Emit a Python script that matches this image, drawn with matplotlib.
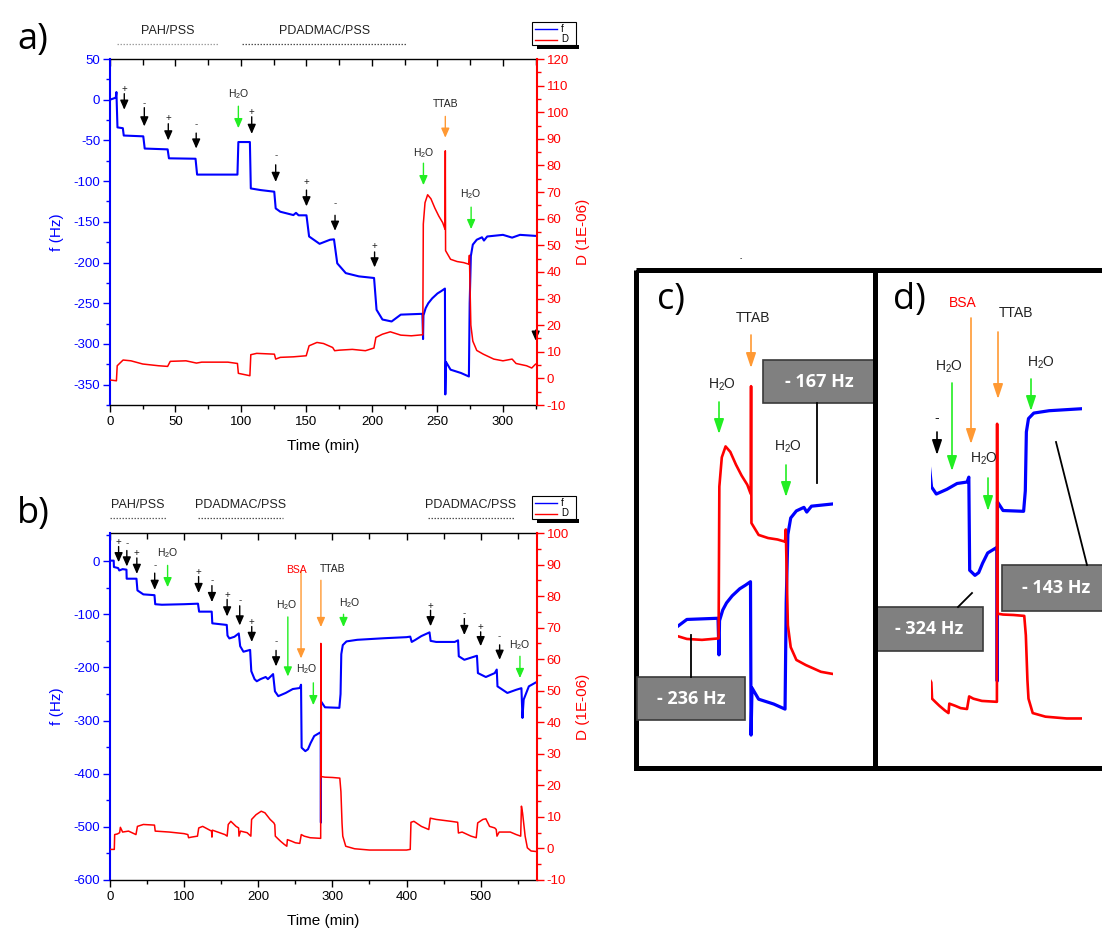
import matplotlib
matplotlib.use('Agg')
import matplotlib.pyplot as plt
import matplotlib.transforms as mtransforms
from matplotlib.patches import Rectangle
from matplotlib.ticker import MultipleLocator, NullFormatter

plt.rcParams['font.family'] = ['Liberation Sans', 'DejaVu Sans']
plt.rcParams['axes.unicode_minus'] = False
plt.rcParams['mathtext.fontset'] = 'custom'
plt.rcParams['mathtext.rm'] = 'Liberation Sans'
plt.rcParams['mathtext.it'] = 'Liberation Sans:italic'
plt.rcParams['mathtext.bf'] = 'Liberation Sans:bold'

# ---------------------------------------------------------------- data
# Panel a : (time min, f Hz) and (time min, D 1E-06)
a_freq = [(0, 0), (4.4, 2.5), (4.9, 9.4), (5.7, -34), (9.8, -35), (10.5, -44), (25.4, -45),
          (26.5, -60), (44.0, -61), (45.0, -72), (65.3, -72.5), (66.5, -92), (97.3, -92),
          (98.0, -52), (106.8, -52), (107.5, -109), (115, -111), (125.4, -113), (126.5, -133.5),
          (130, -137.6), (140, -141.7), (142, -139), (144, -142), (150, -142), (152, -168),
          (160, -177), (168, -172), (171, -171.5), (173.5, -201), (180, -213), (190, -217),
          (201.6, -219), (203.5, -258), (208, -270), (215, -272.4), (222, -264), (238.5, -263),
          (239.0, -294), (239.3, -265), (241, -256), (243, -250), (246, -244), (250, -238),
          (253, -235), (255.7, -232), (256.0, -362), (256.5, -322), (260, -331.6), (268, -335.7),
          (274, -340), (274.6, -250), (275.5, -192), (277, -178), (280, -172), (284, -169),
          (285.5, -173), (288, -168), (300, -166), (307, -169.4), (313, -166), (326, -167.4)]
a_diss = [(0, -0.6), (4.9, -0.9), (5.5, 4.75), (10, 6.9), (16, 6.6), (25, 5.4), (37, 4.75),
          (44, 4.5), (46, 6.4), (58, 6.6), (66, 5.75), (70, 6.1), (90, 6.1), (97.3, 5.6),
          (98, 1.9), (106.8, 1.0), (107.5, 8.9), (112, 9.4), (125.5, 9.1), (126.5, 7.25),
          (130, 7.9), (140, 8.1), (149.8, 8.5), (152, 12.25), (158, 13.5), (163, 13.1),
          (170, 11.6), (171.5, 10.4), (175, 10.6), (185, 10.9), (195, 10.4), (201.5, 11.4),
          (203, 15.4), (208, 16.6), (214, 17.5), (222, 16.25), (230, 16.0), (238.8, 16.4),
          (239.2, 58), (240.5, 66), (242.5, 69), (245, 67.5), (248, 64), (251, 61), (254, 58.5),
          (255.8, 56), (256.0, 85.5), (256.2, 48), (260, 44.75), (265, 43.9), (270, 43.5),
          (274, 42.9), (274.4, 46.25), (274.8, 36), (275.5, 20), (277, 14), (280, 10.5),
          (285, 9.1), (293, 7.25), (300, 6.6), (307, 7.25), (310, 5.6), (318, 4.75),
          (322, 3.9), (325, 5.4), (326, 5.1)]

# Panel b
b_freq = [(0, 1), (5, 1), (5.3, -11), (11, -13), (12.5, -17.5), (17, -15), (22.2, -16),
          (22.5, -33), (35.7, -33), (37, -55), (45, -62.5), (60, -64), (61, -81), (70, -82),
          (100, -81), (118.7, -80), (120.2, -95), (137.2, -95), (138, -117), (157.5, -120),
          (158.5, -140), (161, -145.4), (167.8, -142.3), (173.7, -136), (175.6, -160),
          (180, -170.4), (189, -167), (190.6, -207), (195, -222), (198, -226), (203, -222),
          (210, -218), (213, -222), (220, -212.5), (222.5, -245), (227, -254), (237, -248),
          (246.6, -240.6), (256, -238.75), (257.7, -232.5), (258.5, -351), (263.5, -357.5),
          (267, -354), (270.7, -342), (275.5, -329), (282.8, -323), (284.3, -322),
          (284.5, -492), (284.7, -264), (290, -275), (309.4, -276), (311, -250), (312, -175),
          (314, -158), (319, -151), (333.5, -148), (370, -145), (400, -143), (405, -142),
          (407, -152), (412, -148), (420, -141), (431, -134), (432.5, -150), (440, -152),
          (465, -152), (469.5, -149), (470.5, -179), (478, -185.6), (495, -178),
          (496.3, -210.6), (507, -218), (519, -210.6), (521.7, -204), (522.7, -235.6),
          (536, -248), (548, -242), (555, -239), (556.4, -295), (558, -260.6), (565, -235.6),
          (574.7, -228), (576, -228)]
b_diss = [(0, -0.3), (5.8, -0.3), (6.3, 4.4), (10, 4.6), (13, 5.0), (14, 6.7), (17, 5.2),
          (25, 5.5), (35, 4.4), (37, 7.0), (45, 7.6), (60, 7.4), (61, 5.5), (80, 5.2),
          (100, 4.7), (105, 4.4), (106, 3.4), (110, 3.6), (118, 3.9), (119.7, 6.5), (125, 7.0),
          (137, 5.5), (137.5, 3.6), (138, 5.8), (155, 4.4), (158, 3.9), (159.5, 7.6),
          (163, 8.6), (170, 7.0), (173.5, 6.5), (174, 3.9), (176, 5.5), (185, 5.0), (190, 3.9),
          (191, 9.2), (197, 10.7), (204, 11.8), (209, 11.3), (216, 9.2), (221, 8.1),
          (222.3, 7.5), (223, 3.9), (226, 3.2), (230, 2.3), (235, 1.3), (238.5, 0.7),
          (239.3, 2.8), (245, 2.3), (250, 1.8), (256, 1.6), (258, 4.4), (262, 3.9), (270, 3.4),
          (284.2, 3.2), (284.4, 65), (284.6, 22.8), (290, 22.6), (300, 22.5), (310, 22.3),
          (311.5, 18), (313, 8), (314, 3.9), (318, 0.7), (330, -0.1), (350, -0.5), (400, -0.5),
          (405, -0.3), (406, 8.3), (410, 8.6), (420, 7.0), (430, 6.0), (432, 9.6), (440, 9.2),
          (460, 8.6), (469, 8.3), (470, 4.9), (475, 5.2), (487, 3.9), (494, 3.4), (496, 8.1),
          (503, 9.2), (507, 9.4), (512, 7.0), (519, 6.5), (521, 6.0), (522, 3.9), (525, 5.2),
          (540, 5.2), (548, 4.4), (554, 3.9), (555, 13.4), (556.5, 11.3), (560, 3.9),
          (563, 0.2), (568, -0.8), (576, -1.0)]

# event arrows: (t arrow, t text, label, kind, f text, f tail, f head)
a_marks = [(10.9, 10.9, '+', 'k', 12.7, 7.4, -12.3), (26.2, 26.2, '-', 'k', -4, -9.8, -32.8),
           (44.5, 44.5, '+', 'k', -22.5, -29.5, -50), (65.8, 65.8, '-', 'k', -30, -41, -60),
           (98, 98, 'H2O', 'g', 6.5, -8, -35), (108.2, 108.2, '+', 'k', -15, -21, -42),
           (126.5, 126.5, '-', 'k', -68, -80, -101), (150, 150, '+', 'k', -101, -111, -131),
           (171.8, 171.8, '-', 'k', -127, -142, -161), (202, 202, '+', 'k', -180, -187, -206),
           (239.3, 239.3, 'H2O', 'g', -65, -78, -105), (256, 256, 'TTAB', 'o', -5.7, -20.5, -46.7),
           (275.7, 275.7, 'H2O', 'g', -116, -132, -159), (325, 325, '', 'k', -280, -283, -296)]
b_marks = [(11.6, 11.6, '+', 'k', 37, 27.5, -2), (22.7, 22.7, '-', 'k', 34, 20, -10),
           (36.2, 36.2, '+', 'k', 16, 6, -24), (60.3, 60.3, '-', 'k', -7, -22.5, -54),
           (77.7, 78.5, 'H2O', 'g', 15.6, -8, -49), (119.5, 119.5, '+', 'k', -21, -29, -60),
           (137.5, 137.5, '-', 'k', -35, -46, -77), (158, 158, '+', 'k', -63, -72, -104),
           (175, 175, '-', 'k', -74, -84, -121), (191.2, 191.2, '+', 'k', -114, -123, -152),
           (224, 224, '-', 'k', -150, -168, -198), (239.9, 238.5, 'H2O', 'g', -82, -105, -217),
           (257.7, 251, 'BSA', 'o', -16, -19, -183), (284.5, 300, 'TTAB', 'o', -14, -36, -124),
           (274.3, 266, 'H2O', 'g', -204, -229, -271), (315, 324, 'H2O', 'g', -79, -100, -124),
           (432.4, 432.4, '+', 'k', -85, -92.5, -122.5), (478, 478, '-', 'k', -97.5, -108, -139),
           (500, 500, '+', 'k', -124, -133, -160), (525.6, 525.6, '-', 'k', -142, -157.5, -185.6),
           (553, 553, 'H2O', 'g', -157.5, -179, -220)]

# film build-up groups: (t start, t end, label, line colour)
a_groups = [(5, 83, 'PAH/PSS', '#a0a0a0'), (101, 227, 'PDADMAC/PSS', '#505050')]
b_groups = [(0, 75, 'PAH/PSS', '#606060'), (119, 234, 'PDADMAC/PSS', '#505050'),
            (429, 545, 'PDADMAC/PSS', '#505050')]

# --------------------------------------------------------------- layout
W, H = 1102, 931
fig = plt.figure(figsize=(W / 100, H / 100), dpi=100)
BLUE, RED, GREEN, ORANGE = '#0000ff', '#ff0000', '#22ee22', '#ff9933'
COL = {'k': 'black', 'g': GREEN, 'o': ORANGE}


def px_rect(x0, y0, x1, y1):
    return [x0 / W, 1 - y1 / H, (x1 - x0) / W, (y1 - y0) / H]


def unzip(pairs):
    return [p[0] for p in pairs], [p[1] for p in pairs]


def label_text(s):
    return 'H$_2$O' if s == 'H2O' else s


def make_panel(box, freq, diss, xlim, flim, dlim, xstep, fstep, marks, groups):
    ax = fig.add_axes(px_rect(*box))
    t, f = unzip(freq)
    ax.plot(t, f, color=BLUE, lw=1.5, zorder=3)
    ax.set_xlim(*xlim)
    ax.set_ylim(*flim)
    ax2 = ax.twinx()
    t2, d = unzip(diss)
    ax2.plot(t2, d, color=RED, lw=1.1)
    ax2.set_ylim(*dlim)

    for s in ['top', 'right']:
        ax.spines[s].set_visible(False)
    for s in ['top', 'left', 'bottom']:
        ax2.spines[s].set_visible(False)
    ax.spines['left'].set_color(BLUE)
    ax.spines['left'].set_linewidth(1.5)
    ax.spines['bottom'].set_linewidth(1.0)
    ax2.spines['right'].set_color(RED)
    ax2.spines['right'].set_linewidth(1.5)

    ax.xaxis.set_major_locator(MultipleLocator(xstep))
    ax.xaxis.set_minor_locator(MultipleLocator(xstep / 2))
    ax.yaxis.set_major_locator(MultipleLocator(fstep))
    ax.yaxis.set_minor_locator(MultipleLocator(fstep / 2))
    ax2.yaxis.set_major_locator(MultipleLocator(10))
    ax2.yaxis.set_minor_locator(MultipleLocator(5))

    ax.tick_params(axis='x', which='major', direction='out', length=5, width=1, labelsize=9.5, pad=3)
    ax.tick_params(axis='x', which='minor', direction='out', length=3, width=1)
    ax.tick_params(axis='y', which='major', direction='out', length=5, width=1, color=BLUE,
                   labelcolor=BLUE, labelsize=9.5, pad=2)
    ax.tick_params(axis='y', which='minor', direction='out', length=3, width=1, color=BLUE)
    ax2.tick_params(axis='y', which='major', direction='out', length=5, width=1, color=RED,
                    labelcolor=RED, labelsize=9.5, pad=2)
    ax2.tick_params(axis='y', which='minor', direction='out', length=3, width=1, color=RED)

    sec = ax.secondary_xaxis('top')
    sec.xaxis.set_major_locator(MultipleLocator(xstep))
    sec.xaxis.set_minor_locator(MultipleLocator(xstep / 2))
    sec.xaxis.set_major_formatter(NullFormatter())
    sec.tick_params(which='major', direction='in', length=5, width=1)
    sec.tick_params(which='minor', direction='in', length=4, width=1)
    for sp in sec.spines.values():
        sp.set_linewidth(1.0)

    ax.set_xlabel('Time (min)', fontsize=11, labelpad=8)
    ax.set_ylabel('f (Hz)', fontsize=11, color=BLUE, labelpad=7)
    ax2.set_ylabel('D (1E-06)', fontsize=11, color=RED, labelpad=5)

    for (ta, tt, lab, kind, ftxt, ftail, fhead) in marks:
        ax.annotate('', xy=(ta, fhead), xytext=(ta, ftail),
                    arrowprops=dict(arrowstyle='-|>,head_length=0.8,head_width=0.35',
                                    color=COL[kind], lw=1.0, shrinkA=0, shrinkB=0,
                                    mutation_scale=7), zorder=5)
        if lab:
            tc = RED if lab == 'BSA' else ('#222222' if lab != '-' else '#444444')
            ax.text(tt, ftxt, label_text(lab), ha='center', va='center',
                    fontsize=7.5 if len(lab) > 1 else 7, color=tc, zorder=6)

    trans = mtransforms.blended_transform_factory(ax.transData, ax.transAxes)
    for (t0, t1, lab, col) in groups:
        ax.plot([t0, t1], [1.044, 1.044], transform=trans, clip_on=False,
                color=col, lw=0.9, ls=(0, (1.2, 1.2)))
        ax.text((t0 + t1) / 2, 1.082, lab, transform=trans, ha='center', va='center',
                fontsize=9, color='#222222')
    return ax, ax2


make_panel((110, 59, 537, 405), a_freq, a_diss, (0, 326), (-375, 50), (-10, 120),
           50, 50, a_marks, a_groups)
make_panel((110, 533, 537, 880), b_freq, b_diss, (0, 576), (-600, 53), (-10, 100),
           100, 100, b_marks, b_groups)


# zoomed views c) and d): same series, magnified, no axes
def make_zoom(box, freq, diss, xlim, flim, dlim):
    axb = fig.add_axes(px_rect(*box))
    t, f = unzip(freq)
    axb.plot(t, f, color=BLUE, lw=2.3)
    axb.set_xlim(*xlim)
    axb.set_ylim(*flim)
    axb.axis('off')
    axr = fig.add_axes(px_rect(*box))
    t2, d = unzip(diss)
    axr.plot(t2, d, color=RED, lw=1.9)
    axr.set_xlim(*xlim)
    axr.set_ylim(*dlim)
    axr.axis('off')


make_zoom((678, 265, 833, 772), a_freq, a_diss, (217.3, 299.4), (-393.3, 36.4), (-20.2, 118.7))
make_zoom((931, 265, 1082, 772), b_freq, b_diss, (222, 364.5), (-607.7, 37.4), (-12.4, 100.3))

# ---------------------------------------------------------------- overlay (pixel coordinates)
ov = fig.add_axes([0, 0, 1, 1], zorder=20)
ov.set_xlim(0, W)
ov.set_ylim(H, 0)
ov.axis('off')

# panel letters
for (x, y, s) in [(33, 40, 'a)'), (33, 514, 'b)'), (671, 300, 'c)'), (909, 300, 'd)')]:
    ov.text(x, y, s, fontsize=26, family='Open Sans', ha='center', va='center')

# legends
for top in (59, 533):
    ov.add_patch(Rectangle((537, top - 14), 42, 3.5, color='black', lw=0))
    ov.add_patch(Rectangle((532, top - 37), 44, 23, fc='white', ec='black', lw=0.8))
    ov.plot([535, 557], [top - 30, top - 30], color=BLUE, lw=1.0)
    ov.plot([535, 557], [top - 19.5, top - 19.5], color=RED, lw=1.0)
    ov.text(561, top - 30, 'f', fontsize=7, va='center')
    ov.text(561, top - 19.5, 'D', fontsize=7, va='center')

# frame of c) and d)
ov.add_patch(Rectangle((636, 270), 490, 498, fill=False, ec='black', lw=3.6))
ov.plot([875, 875], [270, 768], color='black', lw=3.6)
ov.text(741, 259, '-', fontsize=5, ha='center', va='center')


def arrow(x, y0, y1, col):
    ov.annotate('', xy=(x, y1), xytext=(x, y0),
                arrowprops=dict(arrowstyle='-|>,head_length=0.9,head_width=0.3', color=col,
                                lw=1.2, shrinkA=0, shrinkB=0, mutation_scale=10))


def txt(x, y, s, col='#222222'):
    ov.text(x, y, label_text(s), fontsize=10, color=col, ha='center', va='center')


# c) annotations
txt(753, 318, 'TTAB'); arrow(751, 335, 368, ORANGE)
txt(722, 385, 'H2O'); arrow(719, 402, 434, GREEN)
txt(788, 447, 'H2O'); arrow(786, 465, 497, GREEN)
# d) annotations
txt(963, 303, 'BSA', RED); arrow(971, 318, 444, ORANGE)
txt(1016, 313, 'TTAB'); arrow(998, 332, 399, ORANGE)
txt(949, 367, 'H2O'); arrow(952, 383, 471, GREEN)
txt(937, 418, '-'); arrow(937, 432, 455, 'black')
txt(984, 459, 'H2O'); arrow(988, 478, 511, GREEN)
txt(1041, 363, 'H2O'); arrow(1031, 379, 411, GREEN)

# value boxes
boxes = [((763, 360, 112, 43), (819, 382), '- 167 Hz', ((817, 403), (817, 483))),
         ((637, 677, 108, 43), (691, 699), '- 236 Hz', ((691, 677), (691, 635))),
         ((875, 607, 108, 44), (929, 629), '- 324 Hz', ((958, 607), (972, 593))),
         ((1002, 565, 110, 46), (1056, 588), '- 143 Hz', ((1087, 565), (1056, 442)))]
for (bx, by, bw, bh), (tx, ty), s, (p0, p1) in boxes:
    ov.plot([p0[0], p1[0]], [p0[1], p1[1]], color='black', lw=1.3)
    ov.add_patch(Rectangle((bx, by), bw, bh, fc='#808080', ec='#3a3a3a', lw=1.2))
    ov.text(tx, ty, s, fontsize=13, family='Open Sans', weight='bold', color='white',
            ha='center', va='center')

fig.savefig('out.png', dpi=100)
